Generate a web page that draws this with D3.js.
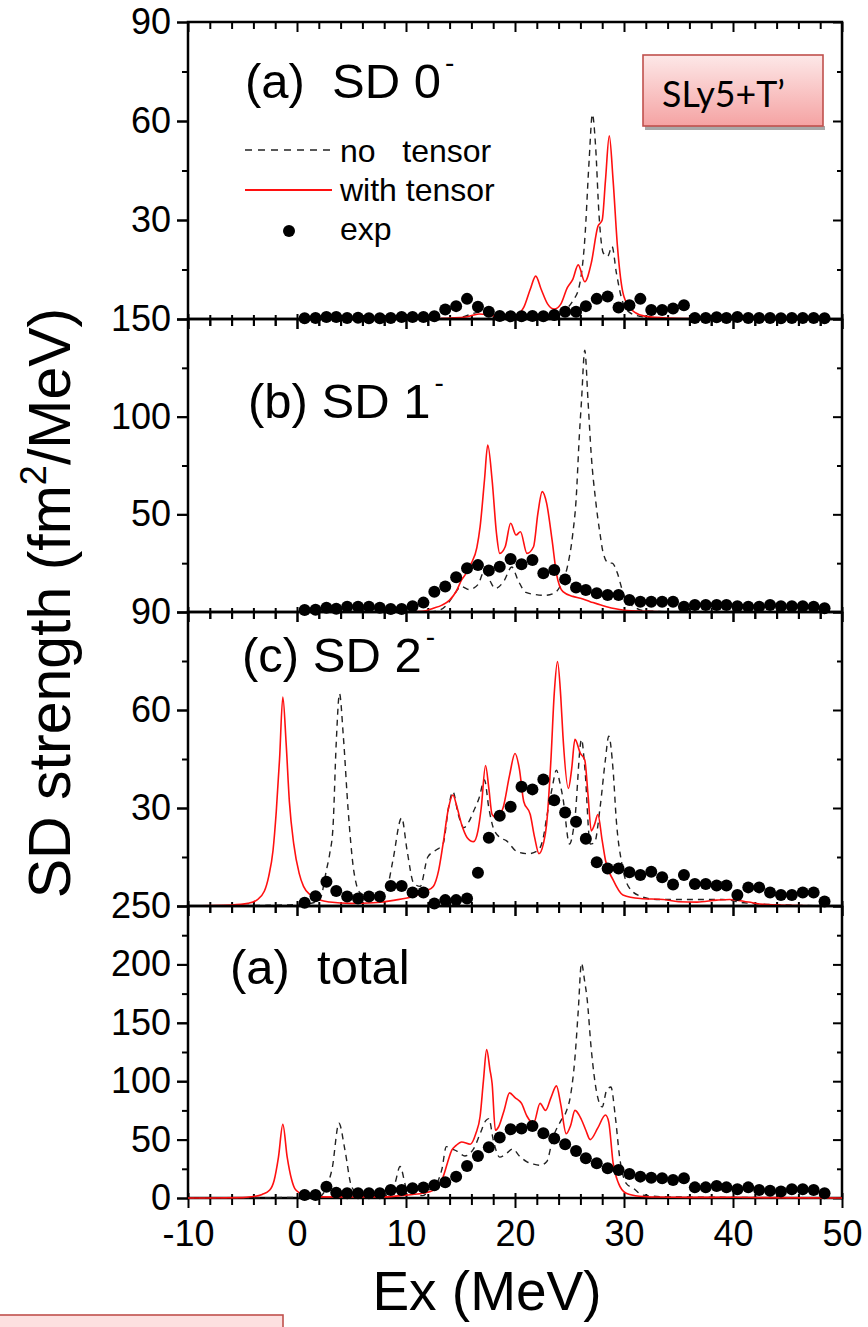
<!DOCTYPE html>
<html>
<head>
<meta charset="utf-8">
<script src="https://cdn.jsdelivr.net/npm/d3@7"></script>
<style>
body { margin: 0; background: #fff; }
svg { display: block; }
text { font-family: "Liberation Sans", Arial, sans-serif; fill: #000; }
</style>
</head>
<body>
<div id="chart"></div>
<script>
"use strict";
//SD strength distributions

//Energies of the experimental points (MeV)
var expEnergy = [0.7,1.7,2.7,3.6,4.6,5.6,6.6,7.6,8.6,9.6,10.6,11.6,12.6,
                 13.6,14.6,15.6,16.6,17.6,18.6,19.6,20.6,21.6,22.6,23.6,24.6,25.6,
                 26.5,27.5,28.5,29.5,30.5,31.5,32.5,33.5,34.5,35.5,36.5,37.5,38.5,
                 39.4,40.4,41.4,42.4,43.4,44.4,45.4,46.4,47.4,48.4];

//Experimental strength for each panel
var expSD0 = [0.2,0.3,0.6,0.6,0.3,0.4,0.2,0.2,0.3,0.6,0.6,0.6,0.8,
              2.9,3.9,6.1,3.7,2.2,0.9,0.8,0.8,0.9,0.8,1.2,2.2,2.2,
              3.9,6.1,6.8,3.5,4.2,6.1,2.7,2.7,3.2,4.2,0.3,0.3,0.5,
              0.3,0.6,0.3,0.3,0.3,0.2,0.3,0.3,0.3,0.2];
var expSD1 = [1,1.2,2.2,1.7,2.7,2.7,2.7,2.2,1.5,1.5,3,4.8,10.4,
              13,17.8,22.4,24,21.2,23.2,27.1,24.4,26.6,19.8,21.5,16.7,12.6,
              11.3,9.6,8.7,8.7,6.1,5.3,5.3,5.3,5.3,2.7,3.6,3.6,3.6,
              3.6,3,2.7,2.7,3.6,3,3,3,2.7,1.9];
var expSD2 = [1,3,7.4,4.6,2.9,2.3,2.9,2.9,6.1,6.1,4.1,4.1,0.8,
              1.8,1.8,2.3,10.2,20.9,27.6,30.4,36.5,35.7,38.7,32.4,28.6,25.8,
              20.6,13.4,11.5,11.5,10.3,9.5,10.5,8.8,6.6,9.5,6.7,6.7,6.3,
              6.3,3.4,5.7,5.7,4.1,3.4,3.4,4.1,4.1,1.4];
var expTotal = [2.5,2.5,9.7,4.6,4,4,4,4,6.8,6.8,8.3,8.9,11,
                13.4,18.3,27.4,36,43.4,51.7,58.8,59.6,61.6,55.4,51,46,40.2,
                34,29.7,25.4,24,20.5,18.3,17.4,17,15.4,17,9.1,9.1,10.3,
                9.1,7.4,9.1,6.8,6.2,5.5,7.4,7.4,6.8,4];

//Calculated strength, [Ex, value]
var sd0NoTensor = [[-10,0],[13,0],[15,0.5],[16.7,2],[18,0.8],[20,0.4],[22,0.5],[23.5,1],[24.5,2.5],
    [25.3,5.5],[25.9,10],[26.4,24],[26.8,48],[27.1,62],[27.4,52],[27.7,32],[28.1,20],[28.5,19],
    [28.9,22],[29.3,14],[29.8,6],[30.5,2],[31.5,0.8],[33,0.3],[36,0],[50,0]];
var sd0WithTensor = [[-10,0],[12,0],[14,0.3],[15.5,0.6],[16.7,1.5],[18,1],[19,0.6],[20,1],[20.8,3.5],
    [21.4,9],[21.9,13],[22.4,9],[23,4.5],[23.6,3],[24.2,4.5],[24.8,9.5],[25.3,12],[25.8,16.4],
    [26.4,11.3],[27,17],[27.6,28],[28,30],[28.3,42],[28.65,55.5],[29,42],[29.4,22],[29.9,8],
    [30.5,3.5],[31,2],[32,0.8],[34,0.3],[37,0.1],[50,0]];

var sd1NoTensor = [[-10,0],[12,0],[13.1,1],[13.8,4],[14.3,8],[15.1,13],[15.8,11.5],[16.6,14],[17.2,21],
    [17.7,16],[18.2,12],[19,16],[19.7,23],[20.3,16],[21,10],[21.8,9],[22.7,8.5],[23.6,9.6],[24.3,15],
    [24.8,23],[25.3,40],[25.6,57],[25.9,90],[26.1,108],[26.4,134],[26.7,108],[27,80],[27.4,57],
    [27.8,40],[28.1,30],[28.6,25],[28.9,25],[29.4,19.8],[29.8,12],[30.2,6],[31,2.5],[31.5,1],
    [33,0.3],[36,0],[50,0]];
var sd1WithTensor = [[-10,0],[10,0],[11.5,0.3],[12.5,1.9],[13.3,3.5],[14,6.1],[14.6,10.5],[15.1,16.4],
    [15.6,20.5],[16,25],[16.5,33],[16.8,43.7],[17.2,67.6],[17.5,85.5],[17.9,67.6],[18.3,40.3],
    [18.6,30],[19.1,33.4],[19.6,45.4],[20.1,39.4],[20.5,41.1],[21.1,30],[21.7,33.4],[22.1,50.5],
    [22.5,61.6],[22.9,55.7],[23.4,36.9],[23.8,19.8],[24.4,10.4],[25.3,8],[26,7],[26.9,5.3],
    [28.4,2.7],[29.9,1],[32,0.3],[35,0],[50,0]];

var sd2NoTensor = [[-10,0],[-3,0.2],[0,0.5],[1.5,1],[2.1,2],[2.7,11],[3,16],[3.3,24],[3.6,50],[3.9,65],
    [4.25,52],[4.7,29],[5.2,11],[5.8,4],[6.6,3],[7.6,3],[8.3,6],[8.8,14],[9.6,27],[10.1,17],[10.7,7],
    [11.3,6],[12,15],[12.7,17],[13.4,19],[13.9,30],[14.3,35],[14.8,28],[15.3,24],[15.8,26],[16.2,29],
    [16.7,33],[17.2,38.6],[17.6,30],[18,24],[18.6,21],[19.2,20],[20.2,16.6],[21.2,16],[22.1,17],
    [22.6,21],[22.9,27],[23.4,36],[23.8,41.6],[24.1,38],[24.4,33],[25,19],[25.5,27],[26.1,51],
    [26.4,42.6],[26.9,19],[27.3,19.4],[27.8,30],[28.3,45],[28.6,52],[29,41.6],[29.3,26],[29.8,13],
    [30.4,6],[31.5,3],[33,2],[36,2],[39,2],[41,1],[43,0.5],[50,0]];
var sd2WithTensor = [[-10,0],[-6,0.3],[-4.5,0.8],[-3.7,1.8],[-3,4.5],[-2.6,9],[-2.2,17],[-1.9,29],
    [-1.6,45],[-1.3,64],[-1,50],[-0.7,32],[-0.3,19],[0.2,10],[0.6,6],[1.2,3.5],[2.1,1.8],[3,1.2],
    [5,0.8],[7,1],[9,1.8],[10.7,3],[11.8,4.5],[12.5,6],[13,11],[13.4,19],[13.9,30],[14.3,34],
    [14.7,30],[15.1,25],[15.6,21],[16.2,19.7],[16.6,23],[16.9,30],[17.3,43],[17.6,36],[17.9,28],
    [18.3,27],[18.9,30],[19.5,40],[20,46.7],[20.4,42],[20.8,32],[21.4,28],[21.8,21],[22.2,16],
    [22.6,19],[22.9,25],[23.3,45],[23.6,65],[23.9,74.8],[24.2,64],[24.4,52],[24.9,36],[25.2,42],
    [25.5,51],[26,46.7],[26.4,44.7],[26.7,34],[27,23],[27.3,25],[27.6,28],[28,20],[28.3,14],[29,8],
    [29.9,3.4],[31.5,2.3],[33.6,2],[35,1.3],[36.7,1.2],[38.5,1.8],[39.7,2],[41.4,1.2],[42.8,0.5],
    [45,0.2],[50,0]];

var totNoTensor = [[-10,0],[0,0.5],[2,1],[3.2,24],[3.85,64],[4.4,41],[5,10],[5.8,2],[8,2],[9,13],
    [9.45,27],[10.1,7],[11.5,2],[12.3,8],[12.8,12],[13.3,25],[13.7,44],[14.2,42],[14.7,40],[15.4,36],
    [16.2,42],[16.8,55],[17.3,66],[17.6,68],[18,50],[18.6,35],[19.2,38],[19.8,42],[20.4,36],[21.1,31],
    [21.7,29],[22.3,28],[22.9,31],[23.5,52],[24.2,66],[24.7,74],[25.1,88],[25.5,120],[25.8,160],
    [26.1,201],[26.4,185],[26.6,172],[27,127],[27.5,90],[28,78],[28.4,92],[28.8,95],[29.2,70],
    [29.6,35],[30.2,12.5],[30.9,8],[31.7,2.5],[34,1],[36,0.8],[40,0.5],[50,0]];
var totWithTensor = [[-10,0],[-5,0.3],[-4.2,1],[-3.2,3],[-2.5,6.8],[-2.1,15],[-1.7,35],[-1.3,63],
    [-0.9,35],[-0.5,16],[-0.2,8],[0.3,4],[0.9,1.7],[2,1],[5,0.8],[8,1],[10,2.5],[11.5,4],[12.5,6.5],
    [13.4,18],[13.8,30],[14.2,41],[14.6,45],[15.1,48],[15.9,46],[16.4,55],[16.8,70],[17.1,100],
    [17.4,127],[17.7,110],[17.9,98],[18.2,58],[18.5,61],[19,75],[19.5,90],[20,86],[20.6,81],[21.1,70],
    [21.7,64],[22.3,81],[22.8,75],[23.3,86],[23.8,96],[24.2,80],[24.7,55],[25.1,62],[25.5,75],
    [26.1,67],[26.5,58],[26.9,50],[27.6,60],[28.3,71],[28.6,65],[29,30],[29.5,12.5],[30.2,4],
    [31.4,1.5],[33,0.8],[36,0.5],[40,0.6],[43,0.3],[50,0]];

//Panel texts and axis ticks
var panelNames = ["(a)  SD 0", "(b) SD 1", "(c) SD 2", "(a)  total"];
var panelSup = ["-", "-", "-", ""];
var panelMax = [90, 150, 90, 250];
var panelStep = [30, 50, 30, 50];
var xTicks = [-10, 0, 10, 20, 30, 40, 50];
var legendNames = ["no   tensor", "with tensor", "exp"];

var panelNo = [sd0NoTensor, sd1NoTensor, sd2NoTensor, totNoTensor];
var panelWith = [sd0WithTensor, sd1WithTensor, sd2WithTensor, totWithTensor];
var panelExp = [expSD0, expSD1, expSD2, expTotal];

//Layout
var W = 868, H = 1327;
var xLeft = 188, xRight = 842;
var edges = [22, 319, 612, 906, 1198];
var labelPos = [[245, 98], [248, 418], [242, 672], [230, 984]];
var RED = "#ff1010", DASH = "#222";

var svg = d3.select("#chart").append("svg")
    .attr("width", W)
    .attr("height", H);

svg.append("rect").attr("width", W).attr("height", H).attr("fill", "#fff");

var x = d3.scaleLinear().domain([-10, 50]).range([xLeft, xRight]);

function addText(g, px, py, str, size, anchor) {
    return g.append("text")
        .attr("x", px).attr("y", py)
        .attr("font-size", size)
        .attr("text-anchor", anchor)
        .text(str);
}

var defs = svg.append("defs");

panelNames.forEach(function(name, i) {
    var top = edges[i], bot = edges[i + 1];
    var y = d3.scaleLinear().domain([0, panelMax[i]]).range([bot, top]);
    var g = svg.append("g");

    defs.append("clipPath").attr("id", "clip" + i)
        .append("rect")
        .attr("x", xLeft).attr("y", top - 1)
        .attr("width", xRight - xLeft).attr("height", bot - top + 2);

    var majors = d3.range(0, panelMax[i] + 0.1, panelStep[i]);
    var minors = d3.range(panelStep[i] / 2, panelMax[i], panelStep[i]);
    var xMinor = d3.range(-8, 50, 2).filter(function(d) { return d % 10 !== 0; });
    //the zero of upper panels sits under the top label of the next one
    var labelled = i === 3 ? majors : majors.filter(function(d) { return d > 0; });

    //left axis, ticks outward
    g.append("g").attr("transform", "translate(" + xLeft + ",0)")
        .call(d3.axisLeft(y).tickValues(majors).tickSize(11).tickFormat(""));
    g.append("g").attr("transform", "translate(" + xLeft + ",0)")
        .call(d3.axisLeft(y).tickValues(labelled).tickSize(11).tickPadding(6)
            .tickFormat(function(d) { return String(d); }));
    g.append("g").attr("transform", "translate(" + xLeft + ",0)")
        .call(d3.axisLeft(y).tickValues(minors).tickSize(6).tickFormat(""));
    //right axis, ticks inward
    g.append("g").attr("transform", "translate(" + xRight + ",0)")
        .call(d3.axisRight(y).tickValues(majors).tickSize(-9).tickFormat(""));
    g.append("g").attr("transform", "translate(" + xRight + ",0)")
        .call(d3.axisRight(y).tickValues(minors).tickSize(-5).tickFormat(""));
    //top axis, ticks inward
    g.append("g").attr("transform", "translate(0," + top + ")")
        .call(d3.axisBottom(x).tickValues(xTicks).tickSize(10).tickFormat(""));
    g.append("g").attr("transform", "translate(0," + top + ")")
        .call(d3.axisBottom(x).tickValues(xMinor).tickSize(7).tickFormat(""));
    //bottom axis, ticks crossing
    g.append("g").attr("transform", "translate(0," + bot + ")")
        .call(d3.axisBottom(x).tickValues(xTicks).tickSize(10).tickPadding(12)
            .tickFormat(i === 3 ? function(d) { return String(d); } : ""));
    g.append("g").attr("transform", "translate(0," + bot + ")")
        .call(d3.axisBottom(x).tickValues(xMinor).tickSize(7).tickFormat(""));
    g.append("g").attr("transform", "translate(0," + bot + ")")
        .call(d3.axisTop(x).tickValues(xTicks).tickSize(5).tickFormat(""));
    g.append("g").attr("transform", "translate(0," + bot + ")")
        .call(d3.axisTop(x).tickValues(xMinor).tickSize(4).tickFormat(""));

    g.selectAll(".domain").remove();
    g.selectAll(".tick line").attr("stroke", "#000").attr("stroke-width", 2);
    g.selectAll(".tick text")
        .attr("font-family", "'Liberation Sans', Arial, sans-serif")
        .attr("font-size", 36)
        .attr("fill", "#000");

    //frame
    g.append("rect")
        .attr("x", xLeft).attr("y", top)
        .attr("width", xRight - xLeft).attr("height", bot - top)
        .attr("fill", "none").attr("stroke", "#000").attr("stroke-width", 2.5);

    var line = d3.line()
        .x(function(d) { return x(d[0]); })
        .y(function(d) { return y(d[1]); })
        .curve(d3.curveMonotoneX);

    var plot = g.append("g").attr("clip-path", "url(#clip" + i + ")");
    plot.append("path").datum(panelNo[i])
        .attr("d", line)
        .attr("fill", "none").attr("stroke", DASH)
        .attr("stroke-width", 1.4).attr("stroke-dasharray", "6,5");
    plot.append("path").datum(panelWith[i])
        .attr("d", line)
        .attr("fill", "none").attr("stroke", RED)
        .attr("stroke-width", 1.6);

    g.append("g").selectAll("circle")
        .data(panelExp[i])
        .join("circle")
        .attr("cx", function(d, j) { return x(expEnergy[j]); })
        .attr("cy", function(d) { return y(d); })
        .attr("r", 6)
        .attr("fill", "#000");

    //panel label
    var lab = addText(g, labelPos[i][0], labelPos[i][1], name, 49, "start")
        .style("white-space", "pre");
    if (panelSup[i]) {
        lab.append("tspan").attr("font-size", 28).attr("dy", -26).attr("dx", 4).text(panelSup[i]);
    }
});

//legend, panel (a)
var leg = svg.append("g");
leg.append("line").attr("x1", 245).attr("x2", 332).attr("y1", 150).attr("y2", 150)
    .attr("stroke", DASH).attr("stroke-width", 1.4).attr("stroke-dasharray", "7,6");
leg.append("line").attr("x1", 245).attr("x2", 332).attr("y1", 190).attr("y2", 190)
    .attr("stroke", RED).attr("stroke-width", 1.8);
leg.append("circle").attr("cx", 289).attr("cy", 231).attr("r", 6).attr("fill", "#000");
legendNames.forEach(function(n, i) {
    addText(leg, 340, 162 + i * 39, n, 32, "start").style("white-space", "pre");
});

//axis titles
var yTitle = svg.append("text")
    .attr("transform", "translate(70,603) rotate(-90)")
    .attr("font-size", 59)
    .attr("text-anchor", "middle");
yTitle.append("tspan").text("SD strength (fm");
yTitle.append("tspan").attr("font-size", 36).attr("dy", -24).text("2");
yTitle.append("tspan").attr("dy", 24).text("/MeV)");

addText(svg, 487, 1310, "Ex (MeV)", 55, "middle");

//SLy5+T' box
var grad = defs.append("linearGradient").attr("id", "boxFill")
    .attr("x1", 0).attr("y1", 0).attr("x2", 0).attr("y2", 1);
grad.append("stop").attr("offset", "0%").attr("stop-color", "#fde8e8");
grad.append("stop").attr("offset", "100%").attr("stop-color", "#f5a3a3");

svg.append("rect").attr("x", 645).attr("y", 126).attr("width", 180).attr("height", 4)
    .attr("fill", "#a8a8a8");
svg.append("rect").attr("x", 643).attr("y", 55).attr("width", 180).attr("height", 71)
    .attr("fill", "url(#boxFill)").attr("stroke", "#c0504d").attr("stroke-width", 1.6);
svg.append("text")
    .attr("x", 662).attr("y", 107)
    .attr("font-size", 36)
    .attr("textLength", 123)
    .attr("lengthAdjust", "spacingAndGlyphs")
    .style("font-family", "Lato, 'Open Sans', sans-serif")
    .text("SLy5+T\u2019");

//second box, cut by the bottom edge
svg.append("rect").attr("x", -2).attr("y", 1315).attr("width", 285).attr("height", 20)
    .attr("fill", "#fde0e0").attr("stroke", "#c0504d").attr("stroke-width", 1.6);
</script>
</body>
</html>
